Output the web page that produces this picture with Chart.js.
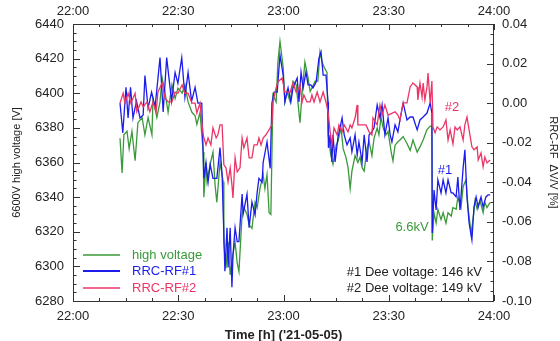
<!DOCTYPE html>
<html>
<head>
<meta charset="utf-8">
<script src="https://cdn.jsdelivr.net/npm/chart.js@4.4.1/dist/chart.umd.min.js"></script>
<style>
  html, body { margin: 0; padding: 0; background: #fff; }
  canvas { display: block; }
</style>
</head>
<body>
<canvas id="chart" width="560" height="341"></canvas>
<script>
// minutes after 22:00
const xTicks = [0, 30, 60, 90, 120];

// 6600V high voltage [V]
const hvTime = [13.4,14.0,14.5,15.4,16.0,16.8,17.7,18.5,19.7,20.5,
  21.4,22.5,22.8,23.9,24.8,25.4,26.2,27.1,28.2,29.1,
  29.9,31.1,31.9,32.8,33.9,34.8,35.3,36.2,37.1,37.3,
  37.9,38.2,39.1,39.9,40.5,41.0,41.9,42.8,43.0,43.6,
  44.2,44.8,45.6,46.2,46.8,47.3,48.2,48.7,49.6,50.2,
  51.0,51.9,52.5,53.3,54.2,54.7,55.3,55.9,56.4,57.0,
  57.9,58.4,59.0,59.9,60.4,61.0,61.9,62.7,63.6,64.1,
  64.7,65.3,66.1,67.0,67.6,68.1,69.0,69.8,70.4,71.0,
  71.6,72.4,72.7,73.5,74.1,75.0,75.5,76.4,77.0,77.8,
  78.4,79.0,79.5,80.4,81.2,81.8,82.4,83.0,83.8,84.4,
  85.2,85.8,86.7,87.2,87.8,88.4,89.2,89.8,90.7,91.2,
  91.8,92.6,93.2,94.1,95.2,96.1,96.9,98.1,98.9,99.8,
  100.9,101.8,102.3,102.4,102.9,103.5,104.0,104.9,105.5,106.3,
  106.9,107.8,108.3,109.2,109.7,110.6,111.2,112.0,112.6,113.5,
  114.0,114.6,115.2,116.0,116.9,117.4,118.0,118.9];
const hvVolt = [6374,6354,6376,6378,6368,6378,6361,6383,6386,6376,
  6386,6376,6397,6386,6395,6409,6401,6389,6405,6397,
  6403,6400,6405,6395,6389,6387,6382,6389,6366,6340,
  6360,6349,6359,6366,6347,6337,6360,6349,6314,6299,
  6314,6295,6307,6314,6302,6297,6330,6334,6330,6324,
  6322,6337,6334,6345,6353,6345,6353,6331,6330,6399,
  6395,6418,6430,6415,6395,6401,6395,6407,6405,6395,
  6383,6400,6418,6409,6401,6403,6407,6407,6424,6418,
  6415,6412,6376,6364,6359,6370,6372,6380,6368,6363,
  6357,6345,6355,6364,6360,6363,6357,6355,6368,6372,
  6364,6374,6380,6376,6386,6380,6376,6378,6366,6361,
  6370,6372,6373,6375,6371,6367,6373,6366,6369,6373,
  6379,6381,6381,6315,6331,6325,6333,6327,6331,6325,
  6331,6329,6334,6333,6340,6334,6346,6350,6334,6319,
  6327,6338,6333,6338,6331,6337,6334,6337];

// RRC-RF#1 dV/V [%]
const rf1Time = [13.4,14.2,15.1,15.7,16.4,17.1,18.1,19.1,20.0,20.5,
  21.4,22.4,23.4,24.8,25.7,26.7,28.1,29.1,29.9,31.0,
  31.9,32.8,33.8,34.8,35.6,36.7,37.3,37.9,38.5,39.1,
  39.9,41.0,41.9,42.5,43.3,43.9,44.2,44.8,45.3,45.6,
  46.2,46.8,47.3,48.2,48.5,49.6,50.2,51.0,51.9,52.5,
  53.0,53.9,54.2,55.3,56.2,56.7,57.3,58.2,59.0,59.9,
  60.4,61.3,62.1,62.7,63.9,64.4,65.0,65.6,66.4,67.0,
  67.8,68.4,69.3,70.1,70.7,71.3,72.1,72.7,72.8,73.3,
  73.8,74.1,74.7,75.5,76.1,76.7,77.3,78.1,79.0,79.5,
  80.4,81.0,81.5,82.4,83.0,83.8,84.4,85.2,85.8,86.7,
  87.5,88.1,88.9,89.8,90.4,90.9,91.8,92.6,93.2,94.1,
  95.2,96.1,96.9,98.1,98.9,99.8,100.9,101.8,102.3,102.4,
  102.9,103.5,104.0,104.9,105.5,106.3,106.9,107.8,108.3,109.2,
  109.7,110.3,111.2,111.7,112.3,112.9,113.7,114.3,114.9,115.5,
  116.3,116.9,117.7,118.3,118.9];
const rf1Dev = [0.000,-0.015,0.008,-0.0075,0.008,-0.0075,0.001,-0.0075,-0.006,0.014,
  -0.0025,0.0055,-0.002,0.023,-0.0045,0.023,0.001,0.0155,0.010,0.023,
  0.003,0.0155,0.001,0.008,0.000,0.000,-0.038,-0.030,-0.040,-0.031,
  -0.038,-0.038,-0.0225,-0.036,-0.085,-0.063,-0.083,-0.063,-0.093,-0.077,
  -0.063,-0.070,-0.070,-0.046,-0.056,-0.046,-0.063,-0.050,-0.0565,-0.045,
  -0.038,-0.040,-0.030,-0.0196,-0.033,0.000,0.0056,0.0056,0.0243,0.0142,
  0.0006,0.0077,0.0006,0.0077,0.0127,0.0006,0.0157,0.0077,0.0157,0.0092,
  0.0092,0.0077,0.0107,0.0228,0.0259,0.0142,0.0142,0.0006,-0.0226,-0.016,
  -0.0297,-0.016,-0.0297,-0.0176,-0.0125,-0.0075,-0.016,-0.0211,-0.0176,-0.0246,
  -0.016,-0.0262,-0.0196,-0.0297,-0.016,-0.0297,-0.016,-0.0145,-0.0125,-0.0009,
  -0.0075,-0.0009,-0.016,-0.0075,-0.016,-0.0196,-0.011,-0.0145,-0.0085,0.0001,
  -0.0085,-0.007,-0.007,-0.0135,-0.0085,-0.007,-0.005,0.0001,-0.005,-0.0656,
  -0.0439,-0.054,-0.0388,-0.0454,-0.0388,-0.0454,-0.0388,-0.0454,-0.0454,-0.0474,
  -0.0373,-0.054,-0.0327,-0.0236,-0.0474,-0.0606,-0.0691,-0.0525,-0.0474,-0.0525,
  -0.0474,-0.0525,-0.0474,-0.0464,-0.0464];

// RRC-RF#2 dV/V [%]
const rf2Time = [13.4,14.3,14.8,15.7,16.5,17.7,18.2,19.4,20.0,21.1,
  21.9,22.8,23.7,24.2,25.4,26.2,27.1,28.2,29.1,29.9,
  31.1,31.9,32.8,33.9,34.8,35.3,36.2,37.1,37.9,38.5,
  39.3,39.9,40.8,41.3,41.9,42.5,43.0,43.6,44.2,44.8,
  45.3,45.6,46.2,46.8,47.6,48.2,48.7,49.6,50.2,51.0,
  51.6,52.5,53.0,53.6,54.2,55.0,56.2,56.7,57.0,57.9,
  58.4,59.6,60.4,61.9,62.7,63.6,64.4,64.7,65.3,65.8,
  66.7,67.6,68.1,68.7,69.6,70.4,71.3,72.1,72.7,73.3,
  73.8,74.4,75.3,75.8,76.7,77.3,78.4,79.0,79.5,80.4,
  81.0,81.2,83.5,84.4,85.2,85.5,86.7,87.5,88.1,88.9,
  89.8,91.8,92.6,93.2,94.1,95.2,96.1,96.9,98.1,98.3,
  98.9,99.5,99.8,100.3,100.9,101.2,101.8,102.3,102.6,103.2,
  103.8,104.6,105.5,106.3,106.9,107.5,108.3,108.9,109.5,110.3,
  111.2,111.7,112.3,112.9,113.7,114.3,115.2,115.5,116.3,116.9,
  117.4,118.0,118.9];
const rf2Dev = [0.000,0.005,0.000,0.005,0.000,0.005,-0.0044,0.0006,-0.0019,0.0006,
  -0.0044,0.0006,-0.0044,0.0056,0.0102,0.0026,0.0006,0.0006,0.0056,0.005,
  0.0092,0.005,0.005,0.000,0.000,-0.005,0.000,-0.0161,-0.0211,-0.0176,
  -0.0211,-0.0125,-0.0176,-0.016,-0.011,-0.011,-0.0312,-0.0327,-0.0398,-0.0327,
  -0.0413,-0.0479,-0.0277,-0.0347,-0.0327,-0.0176,-0.0226,-0.0176,-0.0277,-0.0277,
  -0.0211,-0.0211,-0.0176,-0.0211,-0.0176,-0.016,-0.0125,-0.011,0.0006,0.0077,
  0.0107,0.0127,0.0056,0.0056,0.0102,0.0056,0.0077,0.0092,0.0006,0.0041,
  0.0006,0.0006,0.0041,0.0006,0.0056,0.0006,0.0056,0.0006,-0.0044,-0.0145,
  -0.0211,-0.0125,-0.0161,-0.011,-0.0145,-0.011,-0.0145,-0.011,-0.0125,-0.0075,
  -0.0009,-0.011,-0.011,-0.0145,-0.0161,-0.0075,-0.011,-0.0009,-0.006,-0.0009,
  -0.006,-0.0044,-0.006,-0.0085,0.0001,0.0001,0.0082,0.0102,0.0082,0.0016,
  0.0102,0.0031,0.0102,0.0016,0.0082,0.0152,0.0001,0.0112,-0.012,-0.015,
  -0.012,-0.0135,-0.012,-0.0085,-0.0186,-0.0135,-0.0206,-0.012,-0.0135,-0.012,
  -0.0186,-0.011,-0.007,-0.0135,-0.0221,-0.0236,-0.0221,-0.0287,-0.0252,-0.0322,
  -0.0272,-0.0302,-0.0287];

const GREEN = '#3a9a3a';
const BLUE = '#1c1ced';
const RED = '#ec3567';

const pts = (t, v) => t.map((x, i) => ({ x: x, y: v[i] }));

const timeLabel = v => (22 + Math.floor(v / 60)) + ':' + String(v % 60).padStart(2, '0');

// box, inward ticks (major + minor), legend and notes
const decorations = {
  id: 'decorations',
  afterDatasetsDraw(chart) {
    const { ctx, chartArea: a, scales } = chart;
    ctx.save();
    ctx.strokeStyle = '#333';
    ctx.lineWidth = 1;
    ctx.strokeRect(a.left + 0.5, a.top + 0.5, a.right - a.left - 1, a.bottom - a.top);

    const seg = (x1, y1, x2, y2) => { ctx.beginPath(); ctx.moveTo(x1, y1); ctx.lineTo(x2, y2); ctx.stroke(); };

    for (let m = 0; m <= 120; m += 7.5) {
      const x = Math.round(scales.x.getPixelForValue(m)) + 0.5;
      const len = m % 30 === 0 ? 6 : 3;
      seg(x, a.bottom, x, a.bottom - len);
      seg(x, a.top, x, a.top + len);
    }
    for (let v = 6280; v <= 6440; v += 5) {
      const y = Math.round(scales.y.getPixelForValue(v)) + 0.5;
      seg(a.left, y, a.left + (v % 20 === 0 ? 7 : 3.5), y);
    }
    for (let k = -20; k <= 8; k++) {
      const y = Math.round(scales.y1.getPixelForValue(k * 0.005)) + 0.5;
      seg(a.right, y, a.right - (k % 4 === 0 ? 7 : 3.5), y);
    }

    // legend
    const items = [['high voltage', GREEN, 1.3, 255], ['RRC-RF#1', BLUE, 2.2, 271], ['RRC-RF#2', RED, 1.3, 288]];
    ctx.font = "13px 'Liberation Sans', Arial, sans-serif";
    ctx.textBaseline = 'middle';
    items.forEach(([label, col, w, y]) => {
      ctx.strokeStyle = col;
      ctx.lineWidth = w;
      seg(83, y, 120, y);
      ctx.fillStyle = col;
      ctx.textAlign = 'left';
      ctx.fillText(label, 132, y);
    });

    // notes
    ctx.textAlign = 'center';
    ctx.fillStyle = RED;
    ctx.fillText('#2', 452, 107);
    ctx.fillStyle = BLUE;
    ctx.fillText('#1', 445, 170);
    ctx.fillStyle = GREEN;
    ctx.fillText('6.6kV', 412, 227);
    ctx.fillStyle = '#222';
    ctx.textAlign = 'right';
    ctx.fillText('#1 Dee voltage: 146 kV', 482, 272);
    ctx.fillText('#2 Dee voltage: 149 kV', 482, 288);
    ctx.restore();
  }
};

Chart.defaults.font.family = "'Liberation Sans', Arial, sans-serif";
Chart.defaults.font.size = 13;
Chart.defaults.color = '#222';

new Chart(document.getElementById('chart'), {
  type: 'line',
  data: {
    datasets: [
      { label: 'RRC-RF#2', data: pts(rf2Time, rf2Dev), yAxisID: 'y1', borderColor: RED, borderWidth: 1.3 },
      { label: 'RRC-RF#1', data: pts(rf1Time, rf1Dev), yAxisID: 'y1', borderColor: BLUE, borderWidth: 1.3 },
      { label: 'high voltage', data: pts(hvTime, hvVolt), yAxisID: 'y', borderColor: GREEN, borderWidth: 1.3 }
    ]
  },
  options: {
    responsive: false,
    animation: false,
    layout: { padding: 0 },
    elements: { point: { radius: 0 }, line: { tension: 0 } },
    plugins: { legend: { display: false }, tooltip: { enabled: false } },
    scales: {
      x: {
        type: 'linear', position: 'bottom', min: 0, max: 120,
        afterBuildTicks: s => { s.ticks = xTicks.map(v => ({ value: v })); },
        afterFit: s => { s.height = 40; },
        grid: { display: false, drawTicks: false },
        border: { display: false },
        ticks: { padding: 8, callback: timeLabel, maxRotation: 0 },
        title: { display: true, text: "Time [h] ('21-05-05)", font: { size: 13, weight: 'bold', lineHeight: 1 }, padding: { top: 0, bottom: -1 } }
      },
      x2: {
        type: 'linear', position: 'top', min: 0, max: 120,
        afterBuildTicks: s => { s.ticks = xTicks.map(v => ({ value: v })); },
        afterFit: s => { s.height = 24; },
        grid: { display: false, drawTicks: false },
        border: { display: false },
        ticks: { padding: 5, callback: timeLabel, maxRotation: 0 }
      },
      y: {
        position: 'left', min: 6280, max: 6440,
        afterFit: s => { s.width = 73; },
        grid: { display: false, drawTicks: false },
        border: { display: false },
        ticks: { stepSize: 20, padding: 9, callback: v => String(v) },
        title: { display: true, text: '6600V high voltage [V]', font: { size: 11, lineHeight: 1.2 }, padding: { top: 10, bottom: 0 } }
      },
      y1: {
        position: 'right', min: -0.10, max: 0.04,
        afterFit: s => { s.width = 66; },
        grid: { display: false, drawTicks: false },
        border: { display: false },
        ticks: { stepSize: 0.02, padding: 8, callback: v => Math.abs(v) < 1e-9 ? '0.00' : v.toFixed(2) },
        title: { display: true, text: 'RRC-RF  \u0394V/V [%]', font: { size: 11, lineHeight: 1.2 }, padding: { top: 0, bottom: 3 } }
      }
    }
  },
  plugins: [decorations]
});
</script>
</body>
</html>
